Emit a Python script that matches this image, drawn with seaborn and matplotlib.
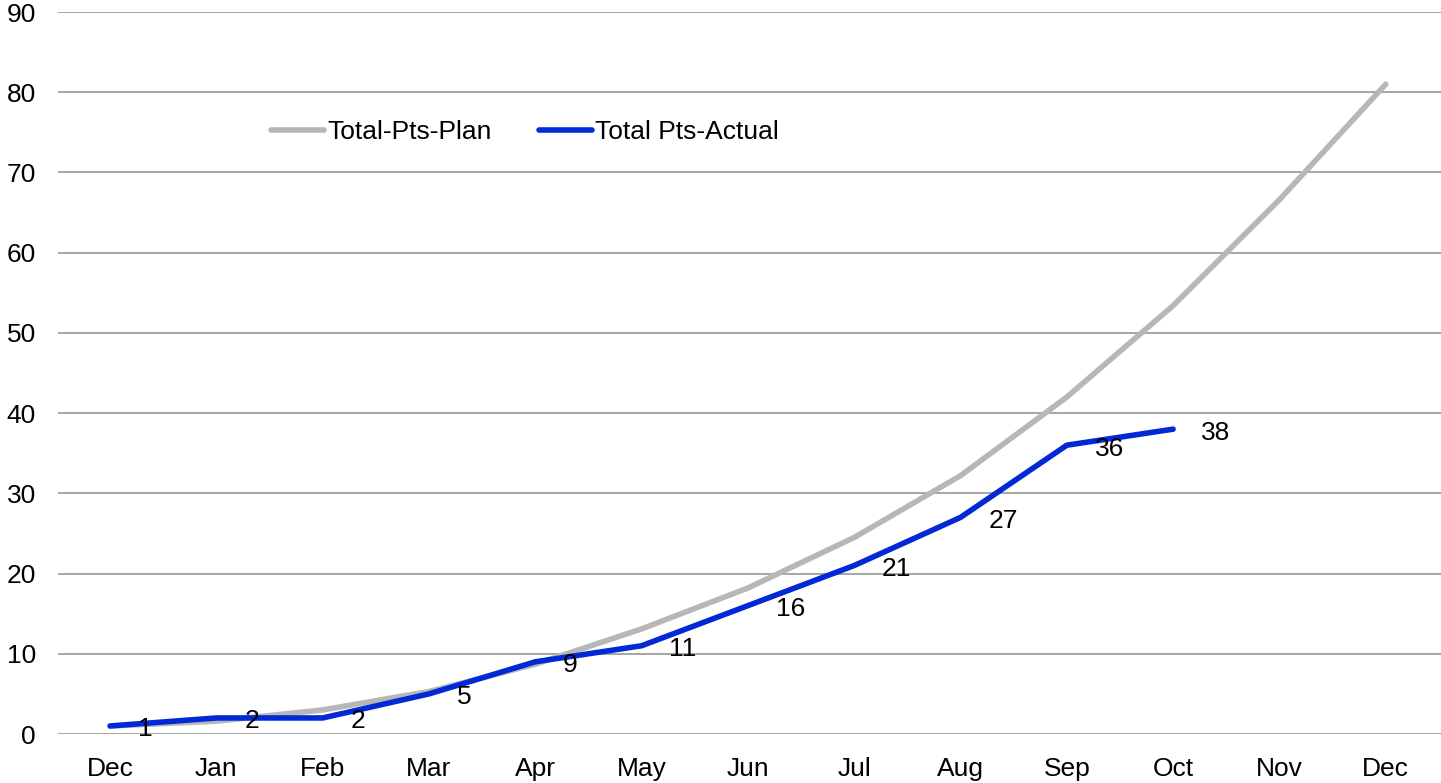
import numpy as np
import pandas as pd
import matplotlib
matplotlib.use('Agg')
import matplotlib.pyplot as plt
import seaborn as sns

# data
months = ["Dec", "Jan", "Feb", "Mar", "Apr", "May", "Jun", "Jul", "Aug", "Sep", "Oct", "Nov", "Dec"]
plan = [1, 1.6, 3.0, 5.3, 8.7, 13.1, 18.2, 24.5, 32.2, 42.0, 53.4, 66.6, 81.0]
actual = [1, 2, 2, 5, 9, 11, 16, 21, 27, 36, 38]

df_plan = pd.DataFrame({"pos": np.arange(len(plan)), "val": plan})
df_act = pd.DataFrame({"pos": np.arange(len(actual)), "val": actual})

sns.set_style('white')
plt.rcParams['font.family'] = ['Liberation Sans', 'DejaVu Sans']
fs = 19

fig = plt.figure(figsize=(14.41, 7.83), dpi=100)
ax = fig.add_axes([58/1441, 49/783, (1441-58)/1441, 722/783])

sns.lineplot(data=df_plan, x="pos", y="val", ax=ax, color="#b7b7b7", lw=4,
             label="Total-Pts-Plan", solid_capstyle='round', clip_on=False)
sns.lineplot(data=df_act, x="pos", y="val", ax=ax, color="#0328d6", lw=4,
             label="Total Pts-Actual", solid_capstyle='round', clip_on=False)

for x, v in zip(df_act.pos, df_act.val):
    ax.annotate(str(v), (x, v), xytext=(20, -2.5), textcoords='offset points',
                ha='left', va='center', fontsize=fs, color='black')

ax.set_xlim(-0.49, 12.52)
ax.set_ylim(0, 90)
ax.set_yticks(range(0, 91, 10))
ax.set_xticks(range(len(months)))
ax.set_xticklabels(months)
ax.yaxis.grid(True, color='#9e9e9e', lw=1.3)
ax.set_axisbelow(True)
for s in ax.spines.values():
    s.set_visible(False)
ax.tick_params(axis='both', length=0, labelsize=fs, colors='black')
ax.tick_params(axis='y', pad=16)
ax.tick_params(axis='x', pad=16.5)
ax.set_xlabel('')
ax.set_ylabel('')

leg = ax.legend(loc='center left', bbox_to_anchor=(271/1441, 1 - 132/783),
                bbox_transform=fig.transFigure, ncol=2, frameon=False, fontsize=fs,
                handlelength=2.0, handletextpad=0.12, columnspacing=1.8,
                borderpad=0, borderaxespad=0)
for t in leg.get_texts():
    t.set_color('black')

fig.savefig("out.png", dpi=100)
